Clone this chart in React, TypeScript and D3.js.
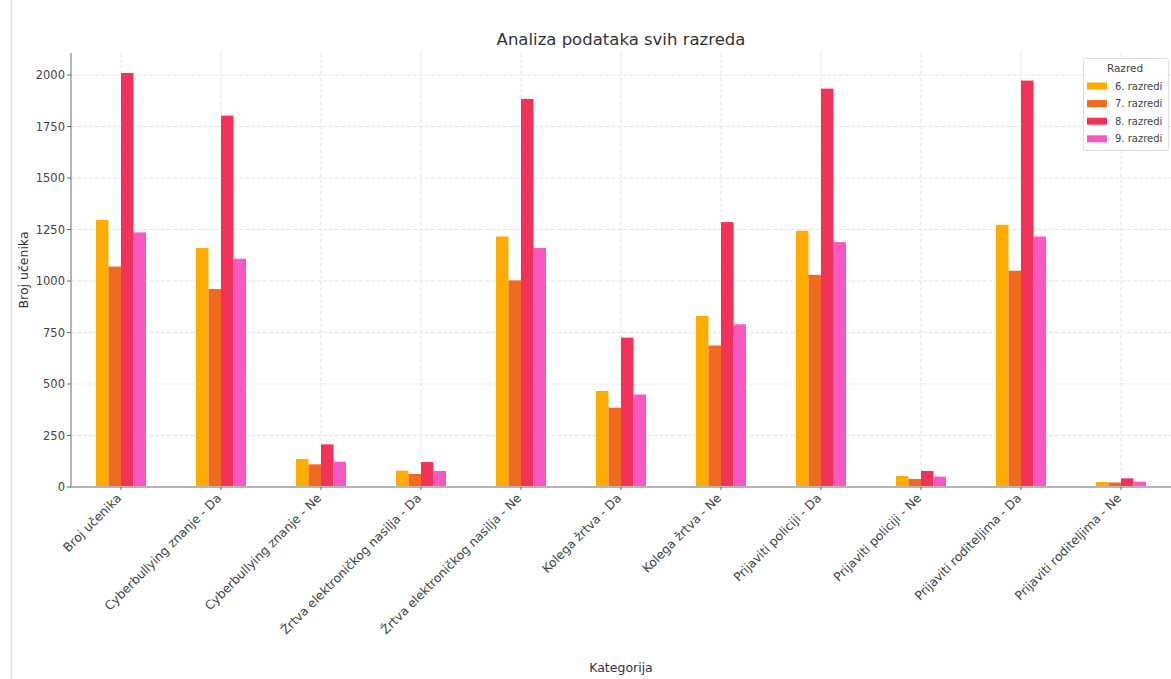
import React from "react";
import * as d3 from "d3";

const categories = [
  "Broj učenika",
  "Cyberbullying znanje - Da",
  "Cyberbullying znanje - Ne",
  "Žrtva elektroničkog nasilja - Da",
  "Žrtva elektroničkog nasilja - Ne",
  "Kolega žrtva - Da",
  "Kolega žrtva - Ne",
  "Prijaviti policiji - Da",
  "Prijaviti policiji - Ne",
  "Prijaviti roditeljima - Da",
  "Prijaviti roditeljima - Ne",
];

const seriesNames = ["6. razredi", "7. razredi", "8. razredi", "9. razredi"];
const seriesColors = ["#ffab00", "#f06a22", "#f3325a", "#f858c1"];

const razred6 = [1297, 1160, 136, 79, 1216, 466, 831, 1244, 53, 1273, 24];
const razred7 = [1070, 961, 110, 63, 1003, 385, 687, 1030, 39, 1050, 22];
const razred8 = [2010, 1803, 207, 121, 1884, 725, 1286, 1934, 78, 1973, 42];
const razred9 = [1236, 1108, 123, 78, 1160, 449, 790, 1189, 50, 1216, 26];

const seriesValues = [razred6, razred7, razred8, razred9];
const yTicks = [0, 250, 500, 750, 1000, 1250, 1500, 1750, 2000];

const W = 1171;
const H = 679;
const left = 71;
const right = 1171;
const top = 53;
const bottom = 487;
const FONT = "DejaVu Sans, sans-serif";

export default function App() {
  const x = d3
    .scaleBand<string>()
    .domain(categories)
    .range([left, right])
    .paddingInner(0.5)
    .paddingOuter(0.25);
  const xs = d3
    .scaleBand<string>()
    .domain(seriesNames)
    .range([0, x.bandwidth()]);
  const y = d3.scaleLinear().domain([0, 2107]).range([bottom, top]);

  return (
    <div style={{ position: "fixed", left: 0, top: 0 }}>
      <svg width={W} height={H} style={{ display: "block", background: "#fff" }} fontFamily={FONT}>
        <line x1={11.5} x2={11.5} y1={0} y2={H} stroke="#e2e2e2" strokeWidth={1.5} />
        {/* grid */}
        {yTicks.map((t) => (
          <line key={"gy" + t} x1={left} x2={right} y1={y(t)} y2={y(t)} stroke="#e4e4e4" strokeWidth={1} strokeDasharray="4,2" />
        ))}
        {categories.map((c) => {
          const cx = (x(c) as number) + x.bandwidth() / 2;
          return <line key={"gx" + c} x1={cx} x2={cx} y1={top} y2={bottom} stroke="#e4e4e4" strokeWidth={1} strokeDasharray="4,2" />;
        })}
        {/* bars */}
        {seriesValues.map((vals, si) => (
          <g key={"s" + si} fill={seriesColors[si]}>
            {vals.map((v, ci) => (
              <rect
                key={ci}
                x={(x(categories[ci]) as number) + (xs(seriesNames[si]) as number)}
                y={y(v)}
                width={xs.bandwidth()}
                height={bottom - y(v)}
              />
            ))}
          </g>
        ))}
        {/* axes */}
        <line x1={left} x2={left} y1={top} y2={bottom + 1} stroke="#b5b5b5" strokeWidth={2} />
        <line x1={left} x2={right} y1={bottom} y2={bottom} stroke="#b5b5b5" strokeWidth={2} />
        {yTicks.map((t) => (
          <g key={"ty" + t}>
            <line x1={left - 4} x2={left} y1={y(t)} y2={y(t)} stroke="#666" strokeWidth={1} />
            <text x={left - 6} y={y(t)} dy="0.35em" textAnchor="end" fontSize={11.5} fill="#444">
              {t}
            </text>
          </g>
        ))}
        {categories.map((c) => {
          const cx = (x(c) as number) + x.bandwidth() / 2;
          return (
            <g key={"tx" + c}>
              <line x1={cx} x2={cx} y1={bottom} y2={bottom + 3} stroke="#666" strokeWidth={1} />
              <text transform={`translate(${cx + 1},${bottom + 12}) rotate(-45)`} textAnchor="end" fontSize={12.3} fill="#444">
                {c}
              </text>
            </g>
          );
        })}
        {/* labels */}
        <text x={(left + right) / 2} y={45} textAnchor="middle" fontSize={16.5} fill="#333">
          Analiza podataka svih razreda
        </text>
        <text transform={`translate(28,${(top + bottom) / 2}) rotate(-90)`} textAnchor="middle" fontSize={12.5} fill="#333">
          Broj učenika
        </text>
        <text x={(left + right) / 2} y={672} textAnchor="middle" fontSize={12.5} fill="#333">
          Kategorija
        </text>
        {/* legend */}
        <g>
          <rect x={1083.5} y={58.5} width={85} height={92} fill="#fff" fillOpacity={0.85} stroke="#dddddd" rx={2} />
          <text x={1125} y={72} textAnchor="middle" fontSize={10.5} fill="#444">
            Razred
          </text>
          {seriesNames.map((s, i) => (
            <g key={"lg" + s}>
              <rect x={1087} y={82.5 + i * 17.6} width={20} height={7} fill={seriesColors[i]} />
              <text x={1115} y={89.5 + i * 17.6} fontSize={10} fill="#444">
                {s}
              </text>
            </g>
          ))}
        </g>
      </svg>
    </div>
  );
}
